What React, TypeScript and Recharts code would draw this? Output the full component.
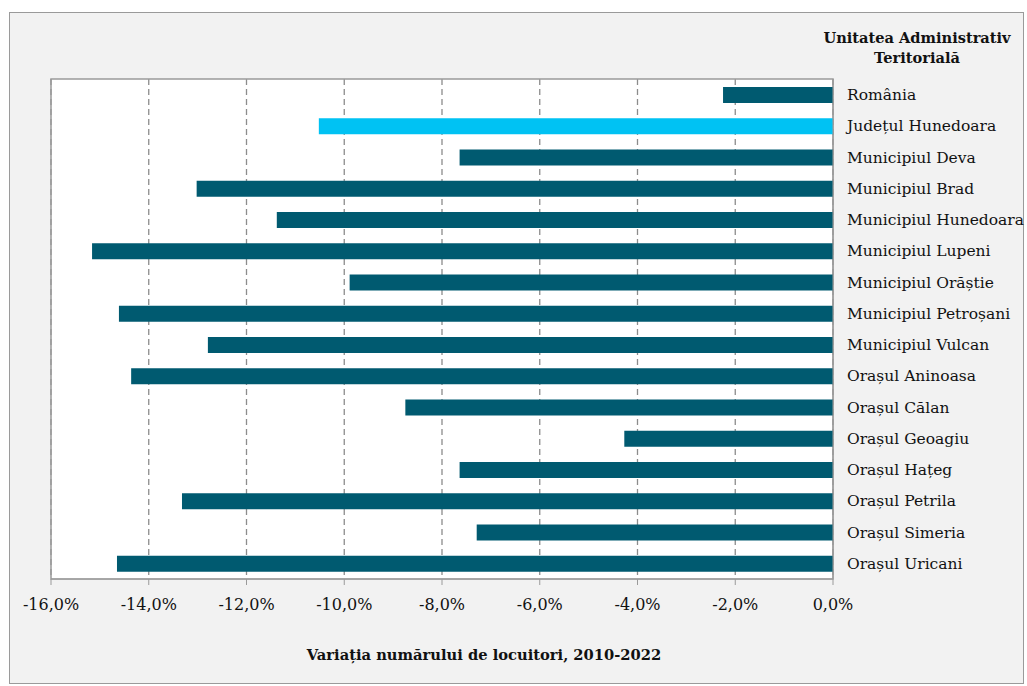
import React from 'react';
import { BarChart, Bar, Cell, XAxis, YAxis, CartesianGrid, ReferenceArea } from 'recharts';

const units = [
  'România',
  'Județul Hunedoara',
  'Municipiul Deva',
  'Municipiul Brad',
  'Municipiul Hunedoara',
  'Municipiul Lupeni',
  'Municipiul Orăștie',
  'Municipiul Petroșani',
  'Municipiul Vulcan',
  'Orașul Aninoasa',
  'Orașul Călan',
  'Orașul Geoagiu',
  'Orașul Hațeg',
  'Orașul Petrila',
  'Orașul Simeria',
  'Orașul Uricani',
];

const variation = [
  -0.0225, -0.1052, -0.0764, -0.1302, -0.1138, -0.1516, -0.0989, -0.1461,
  -0.1279, -0.1436, -0.0875, -0.0427, -0.0764, -0.1332, -0.0729, -0.1465,
];

const xTicks = [-0.16, -0.14, -0.12, -0.1, -0.08, -0.06, -0.04, -0.02, 0];

// category boundaries for the small inner tick marks on the right axis
const boundaryTicks = Array.from({ length: units.length + 1 }, (_, i) => i);

const data = units.map((name, i) => ({ name, value: variation[i] }));

const font = '"DejaVu Serif", serif';

const fmt = (v: number) => (v * 100).toFixed(1).replace('.', ',').replace('-0,0', '0,0') + '%';

export default function App() {
  return (
    <div style={{ position: 'absolute', left: 0, top: 0, width: 1027, height: 686 }}>
      <div
        style={{
          position: 'absolute',
          left: 9,
          top: 12,
          width: 1013,
          height: 670,
          background: '#f2f2f2',
          border: '1px solid #9a9a9a',
        }}
      />
      <div
        style={{
          position: 'absolute',
          left: 807,
          top: 28,
          width: 220,
          textAlign: 'center',
          fontFamily: font,
          fontWeight: 'bold',
          fontSize: 14.6,
          lineHeight: '20px',
          color: '#111',
        }}
      >
        Unitatea Administrativ
        <br />
        Teritorială
      </div>
      <div
        style={{
          position: 'absolute',
          left: 250,
          top: 646,
          width: 468,
          textAlign: 'center',
          fontFamily: font,
          fontWeight: 'bold',
          fontSize: 14.7,
          color: '#111',
        }}
      >
        Variația numărului de locuitori, 2010-2022
      </div>
      <BarChart
        width={1027}
        height={686}
        data={data}
        layout='vertical'
        margin={{ top: 79, right: 4, left: 51, bottom: 77 }}
        barSize={16}
        style={{ position: 'absolute', left: 0, top: 0 }}
      >
        <CartesianGrid
          horizontal={false}
          vertical
          fill='#ffffff'
          stroke='#8c8c8c'
          strokeDasharray='6 4'
          strokeWidth={1.3}
        />
        <ReferenceArea x1={-0.16} x2={0} fill='none' stroke='#9a9a9a' strokeWidth={1.5} />
        <XAxis
          type='number'
          domain={[-0.16, 0]}
          ticks={xTicks}
          tickFormatter={fmt}
          height={30}
          stroke='#9a9a9a'
          tickSize={6}
          tick={{ fontFamily: font, fontSize: 16, fill: '#111' }}
          tickMargin={14}
        />
        <YAxis
          yAxisId='marks'
          type='number'
          orientation='right'
          domain={[0, units.length]}
          ticks={boundaryTicks}
          allowDataOverflow
          mirror
          width={0}
          axisLine={false}
          tick={{ fill: 'transparent', fontSize: 1 }}
          tickLine={{ stroke: '#9a9a9a', strokeWidth: 1.2 }}
          tickSize={5}
        />
        <YAxis
          type='category'
          dataKey='name'
          orientation='right'
          width={190}
          stroke='#9a9a9a'
          tickLine={false}
          tick={{ fontFamily: font, fontSize: 15.5, fill: '#111', textAnchor: 'start' }}
          tickMargin={8}
          interval={0}
        />
        <Bar dataKey='value' isAnimationActive={false}>
          {data.map((d, i) => (
            <Cell key={d.name} fill={i === 1 ? '#00c2f3' : '#005a70'} />
          ))}
        </Bar>
      </BarChart>
    </div>
  );
}
